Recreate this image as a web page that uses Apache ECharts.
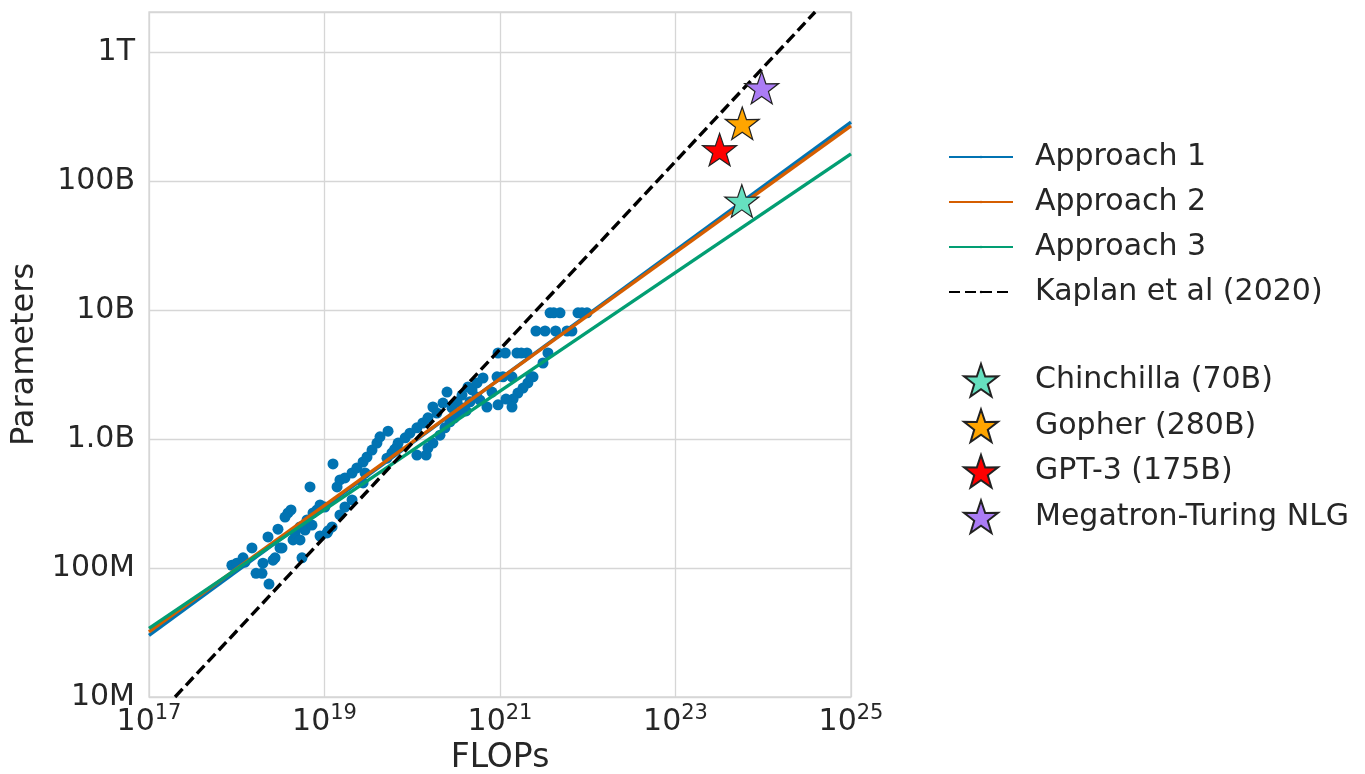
<!DOCTYPE html>
<html>
<head>
<meta charset="utf-8">
<script src="https://cdn.jsdelivr.net/npm/echarts@6/dist/echarts.min.js"></script>
<style>
html,body{margin:0;padding:0;background:#fff;}
#chart{width:1365px;height:774px;}
</style>
</head>
<body>
<div id="chart"></div>
<script>
// ---------------- data ----------------
const yTickLabels = ['10M', '100M', '1.0B', '10B', '100B', '1T'];
const yTickValues = [1e7, 1e8, 1e9, 1e10, 1e11, 1e12];

// fitted points (FLOPs, parameters)
const pointFlops = [
  8.8e17, 1.0e18, 1.18e18, 1.49e18, 1.66e18, 1.94e18, 1.99e18, 2.33e18, 2.27e18, 2.73e18,
  2.95e18, 3.28e18, 3.84e18, 4.15e18, 4.38e18, 4.61e18, 5.26e18, 5.26e18, 5.54e18, 6.32e18,
  6.84e18, 7.4e18, 8.2e18, 8.9e18, 1.01e19, 8.9e18, 1.07e19, 1.22e19, 1.25e19, 1.39e19,
  1.5e19, 1.5e19, 1.71e19, 1.71e19, 2.06e19, 2.06e19, 2.34e19, 2.75e19, 2.75e19, 2.9e19,
  3.05e19, 3.48e19, 3.96e19, 4.29e19, 5.3e19, 5.15e19, 5.87e19, 6.7e19, 6.9e19, 8.3e19,
  9.4e19, 1.13e20, 1.32e20, 1.51e20, 1.72e20, 1.91e20, 2.49e20, 1.13e20, 1.44e20, 1.51e20,
  1.72e20, 2.07e20, 2.36e20, 2.69e20, 3.24e20, 3.78e20, 4.55e20, 5.47e20, 3.24e20, 3.69e20,
  4.32e20, 4.8e20, 5.47e20, 6.4e20, 7.1e20, 8.1e20, 9.5e20, 9.25e20, 1.08e21, 1.37e21,
  2.38e21, 2.08e21, 1.83e21, 1.6e21, 1.41e21, 1.37e21, 9.5e20, 1.56e21, 2.03e21, 3.52e21,
  3.09e21, 2.57e21, 3.26e21, 5.8e21, 3.72e21, 4.83e21, 7.74e21, 9.8e21, 2.24e20, 2.84e20,
  3.55e18, 1.24e18, 2.59e18, 3.11e18, 6.0e18, 7.2e18, 1.1e19, 5.9e20, 1.17e21,
  1.75e21, 2.25e21, 4.1e21, 4.3e21, 6.6e21, 8.6e21, 1.15e21, 3.0e20, 4.1e20, 6.3e19
];
const pointParams = [
  1.05e8, 1.09e8, 1.2e8, 1.43e8, 9.1e7, 9.1e7, 1.09e8, 7.5e7, 1.74e8, 1.2e8,
  2.0e8, 1.43e8, 2.67e8, 2.82e8, 1.65e8, 1.87e8, 2.08e8, 1.65e8, 1.2e8, 2.36e8,
  4.25e8, 2.67e8, 2.82e8, 3.08e8, 2.97e8, 1.77e8, 1.87e8, 2.08e8, 6.4e8, 4.25e8,
  4.81e8, 2.58e8, 4.99e8, 2.97e8, 5.45e8, 3.37e8, 5.96e8, 6.63e8, 4.56e8, 5.45e8,
  7.25e8, 8.2e8, 9.3e8, 1.04e9, 1.15e9, 7.1e8, 7.8e8, 8.7e8, 9.3e8, 1.02e9,
  1.11e9, 1.22e9, 1.33e9, 1.46e9, 1.77e9, 1.59e9, 2.31e9, 7.5e8, 7.5e8, 8.5e8,
  9.3e8, 1.07e9, 1.22e9, 1.36e9, 1.59e9, 1.74e9, 1.94e9, 2.12e9, 1.94e9, 2.19e9,
  2.53e9, 2.4e9, 2.72e9, 2.97e9, 1.77e9, 2.31e9, 1.84e9, 3.03e9, 3.03e9, 3.03e9,
  3.03e9, 2.72e9, 2.48e9, 2.27e9, 2.04e9, 1.77e9, 4.64e9, 4.64e9, 4.64e9, 4.64e9,
  3.88e9, 6.87e9, 6.87e9, 6.87e9, 9.5e9, 9.5e9, 9.5e9, 9.5e9, 1.9e9, 1.74e9,
  2.48e8, 1.11e8, 1.15e8, 1.43e8, 1.97e8, 2.15e8, 1.94e8, 2.0e9, 2.04e9,
  4.64e9, 3.03e9, 9.5e9, 6.87e9, 6.87e9, 9.5e9, 4.64e9, 1.45e9, 1.65e9, 8.3e8
];

// projection lines: endpoints [FLOPs, params]
const approachNames = ['Approach 1', 'Approach 2', 'Approach 3', 'Kaplan et al (2020)'];
const approach1 = [[1e17, 3.0e7], [1e25, 2.86e11]];
const approach2 = [[1e17, 3.2e7], [1e25, 2.67e11]];
const approach3 = [[1e17, 3.4e7], [1e25, 1.62e11]];
const kaplan = [[1.98e17, 1e7], [3.9e24, 2.04e12]];

// named models
const starModels = ['Chinchilla (70B)', 'Gopher (280B)', 'GPT-3 (175B)', 'Megatron-Turing NLG'];
const starFlops = [5.7e23, 5.76e23, 3.18e23, 9.6e23];
const starParams = [7.0e10, 2.8e11, 1.75e11, 5.3e11];

// ---------------- styling ----------------
const FONT = 'DejaVu Sans';
const TXT = '#262626';
const GRID = '#d6d6d6';
const lineColors = ['#0173b2', '#d55e00', '#029e73', '#000000'];
const starColors = ['#66e0c0', '#ffa500', '#ff0000', '#ab7cf5'];
const STAR = 'path://M50,0 L61.8,35.1 L97.6,34.5 L69,56.9 L79.4,91 L50,70.5 L20.6,91 L31,56.9 L2.4,34.5 L38.2,35.1 Z';

const chart = echarts.init(document.getElementById('chart'), null, {renderer: 'canvas'});

const lineSeries = [approach1, approach2, approach3, kaplan].map((d, i) => ({
  name: approachNames[i],
  type: 'line',
  data: d,
  showSymbol: false,
  symbol: 'none',
  clip: true,
  z: 3 + i,
  lineStyle: {color: lineColors[i], width: 3.4, type: i === 3 ? [11, 5] : 'solid'},
  itemStyle: {color: lineColors[i]},
  animation: false
}));

const starSeries = starModels.map((n, i) => ({
  name: n,
  type: 'scatter',
  data: [[starFlops[i], starParams[i]]],
  symbol: STAR,
  symbolSize: 34,
  symbolKeepAspect: true,
  z: 10,
  itemStyle: {color: starColors[i], borderColor: '#222', borderWidth: 1.2, opacity: 1},
  animation: false
}));

const expLabel = v => {
  const e = Math.log10(v);
  if (Math.abs(e - Math.round(e)) > 0.01) return '';
  return '{b|10}{s|' + Math.round(e) + '}';
};

const option = {
  backgroundColor: '#ffffff',
  animation: false,
  grid: {left: 149, top: 12, right: 514, bottom: 77, show: true, borderColor: GRID, borderWidth: 1.3,
         containLabel: false, outerBoundsMode: 'none'},
  xAxis: {
    type: 'log', logBase: 10, min: 1e17, max: 1e25, interval: 2,
    name: 'FLOPs', nameLocation: 'middle', nameGap: 43,
    nameTextStyle: {fontFamily: FONT, fontSize: 33, color: TXT},
    axisLine: {show: false}, axisTick: {show: false}, minorTick: {show: false},
    splitLine: {show: true, lineStyle: {color: GRID, width: 1.3}},
    axisLabel: {
      margin: 6, formatter: expLabel, color: TXT, fontFamily: FONT,
      rich: {
        b: {fontFamily: FONT, fontSize: 30, color: TXT, verticalAlign: 'bottom', lineHeight: 34},
        s: {fontFamily: FONT, fontSize: 21, color: TXT, verticalAlign: 'top', lineHeight: 34, padding: [0, 0, 10, 0]}
      }
    }
  },
  yAxis: {
    type: 'log', logBase: 10, min: 1e7, max: 2.04e12, splitNumber: 5,
    name: 'Parameters', nameLocation: 'middle', nameGap: 93, nameRotate: 90,
    nameTextStyle: {fontFamily: FONT, fontSize: 32, color: TXT},
    axisLine: {show: false}, axisTick: {show: false}, minorTick: {show: false},
    splitLine: {show: true, lineStyle: {color: GRID, width: 1.3}},
    axisLabel: {
      margin: 14, color: TXT, fontFamily: FONT, fontSize: 30,
      formatter: v => {
        const idx = yTickValues.findIndex(t => Math.abs(Math.log10(t) - Math.log10(v)) < 0.01);
        return idx >= 0 ? yTickLabels[idx] : '';
      }
    }
  },
  legend: [
    {
      data: approachNames, orient: 'vertical', left: 943, top: 137,
      itemWidth: 64, itemHeight: 3, itemGap: 15,
      textStyle: {fontFamily: FONT, fontSize: 30, color: TXT, padding: [0, 0, 0, 17]},
      selectedMode: false
    },
    {
      data: starModels, orient: 'vertical', left: 958, top: 358,
      itemWidth: 34, itemHeight: 34, itemGap: 11,
      icon: STAR,
      textStyle: {fontFamily: FONT, fontSize: 30, color: TXT, padding: [0, 0, 0, 32]},
      selectedMode: false
    }
  ],
  series: [
    {
      name: 'points', type: 'scatter',
      data: pointFlops.map((f, i) => [f, pointParams[i]]),
      symbol: 'circle', symbolSize: 11, z: 2,
      itemStyle: {color: '#0173b2', opacity: 1},
      animation: false
    },
    ...lineSeries,
    ...starSeries
  ]
};
chart.setOption(option);
</script>
</body>
</html>
